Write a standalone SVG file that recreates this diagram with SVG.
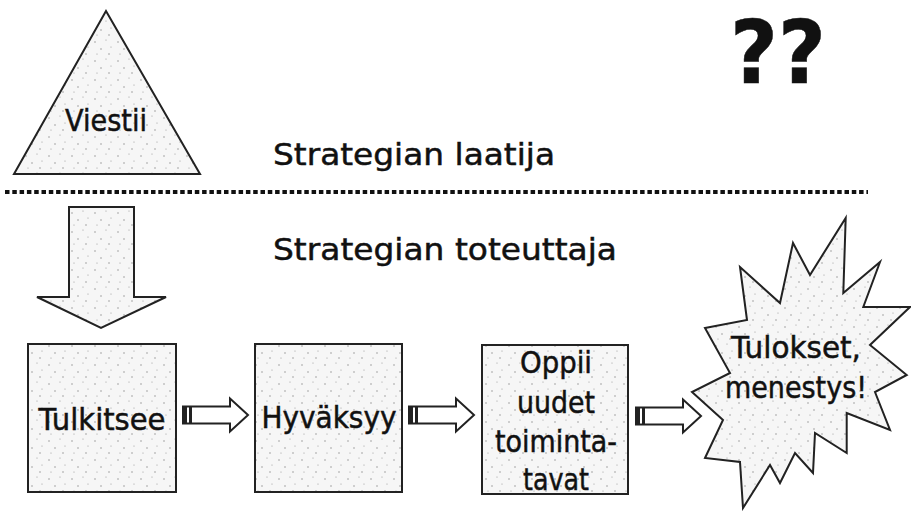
<svg xmlns="http://www.w3.org/2000/svg" width="911" height="511" viewBox="0 0 911 511">
  <defs>
    <pattern id="stip" width="23" height="19" patternUnits="userSpaceOnUse">
      <rect width="23" height="19" fill="#f6f6f6"/>
      <circle cx="3" cy="4" r="0.7" fill="#888"/>
      <circle cx="14" cy="2" r="0.6" fill="#999"/>
      <circle cx="9" cy="11" r="0.7" fill="#888"/>
      <circle cx="19" cy="9" r="0.6" fill="#999"/>
      <circle cx="5" cy="16" r="0.6" fill="#999"/>
      <circle cx="17" cy="16" r="0.7" fill="#888"/>
    </pattern>
    <g id="smallArrow">
      <path d="M0,-8.5 L47,-8.5 L47,-16.5 L65,0 L47,16.5 L47,8.5 L0,8.5 Z" fill="#fff" stroke="#222" stroke-width="2" stroke-linejoin="miter"/>
      <rect x="0" y="-8.5" width="4" height="17" fill="#222"/>
      <rect x="6" y="-8.5" width="3" height="17" fill="#222"/>
    </g>
  </defs>
  <style>
    .shape { fill: url(#stip); stroke: #222; stroke-width: 2; }
    .lbl { font-family: "DejaVu Sans", Verdana, sans-serif; fill: #111; stroke: #111; stroke-width: 0.5; }
    .node { font-size: 30px; text-anchor: middle; }
    .title { font-size: 31px; }
  </style>
  <rect width="911" height="511" fill="#fff"/>

  <g id="node-viestii">
    <polygon class="shape" points="106,11 14,174 200,174"/>
    <text class="lbl node" x="106" y="131" textLength="82" lengthAdjust="spacingAndGlyphs">Viestii</text>
  </g>

  <g id="labels">
    <text class="lbl title" x="273" y="165" textLength="282" lengthAdjust="spacingAndGlyphs">Strategian laatija</text>
    <text class="lbl title" x="273" y="260" textLength="344" lengthAdjust="spacingAndGlyphs">Strategian toteuttaja</text>
    <text class="lbl" x="730" y="83" font-size="88" font-weight="bold" textLength="96" lengthAdjust="spacingAndGlyphs">??</text>
  </g>

  <line id="divider" x1="5" y1="192" x2="868" y2="192" stroke="#111" stroke-width="4" stroke-dasharray="4.5 2.8"/>

  <g id="node-tulkitsee">
    <rect class="shape" x="28" y="344" width="148" height="148"/>
    <text class="lbl node" x="102" y="430" textLength="127" lengthAdjust="spacingAndGlyphs">Tulkitsee</text>
  </g>

  <g id="node-hyvaksyy">
    <rect class="shape" x="255" y="344" width="147" height="148"/>
    <text class="lbl node" x="329" y="428" textLength="135" lengthAdjust="spacingAndGlyphs">Hyväksyy</text>
  </g>

  <g id="node-oppii">
    <rect class="shape" x="482" y="345" width="146" height="149"/>
    <text class="lbl node" x="556" y="373" textLength="72" lengthAdjust="spacingAndGlyphs">Oppii</text>
    <text class="lbl node" x="556" y="413" textLength="78" lengthAdjust="spacingAndGlyphs">uudet</text>
    <text class="lbl node" x="556" y="452" textLength="122" lengthAdjust="spacingAndGlyphs">toiminta-</text>
    <text class="lbl node" x="556" y="490" textLength="66" lengthAdjust="spacingAndGlyphs">tavat</text>
  </g>

  <g id="node-tulokset">
    <polygon class="shape" points="845.7,218 843.3,293 880,262 863.3,307 910,307 870,345 906.7,375 875,392 890,430 846.7,413 846.7,453 815,433 813,473 795,453 780,483 770,465 743,508 740,462 705,458 723,420 692,392 730,373 705,328 747,320 740,267 780,303 793,243 810,275"/>
    <text class="lbl node" x="796" y="358" textLength="130" lengthAdjust="spacingAndGlyphs">Tulokset,</text>
    <text class="lbl node" x="796" y="398" textLength="142" lengthAdjust="spacingAndGlyphs">menestys!</text>
  </g>

  <g id="connectors">
    <polygon class="shape" points="69,207 134,207 134,297 166,297 101,328 37,297 69,297"/>
    <use href="#smallArrow" x="183" y="415"/>
    <use href="#smallArrow" x="409" y="415"/>
    <use href="#smallArrow" x="636" y="416"/>
  </g>
</svg>
